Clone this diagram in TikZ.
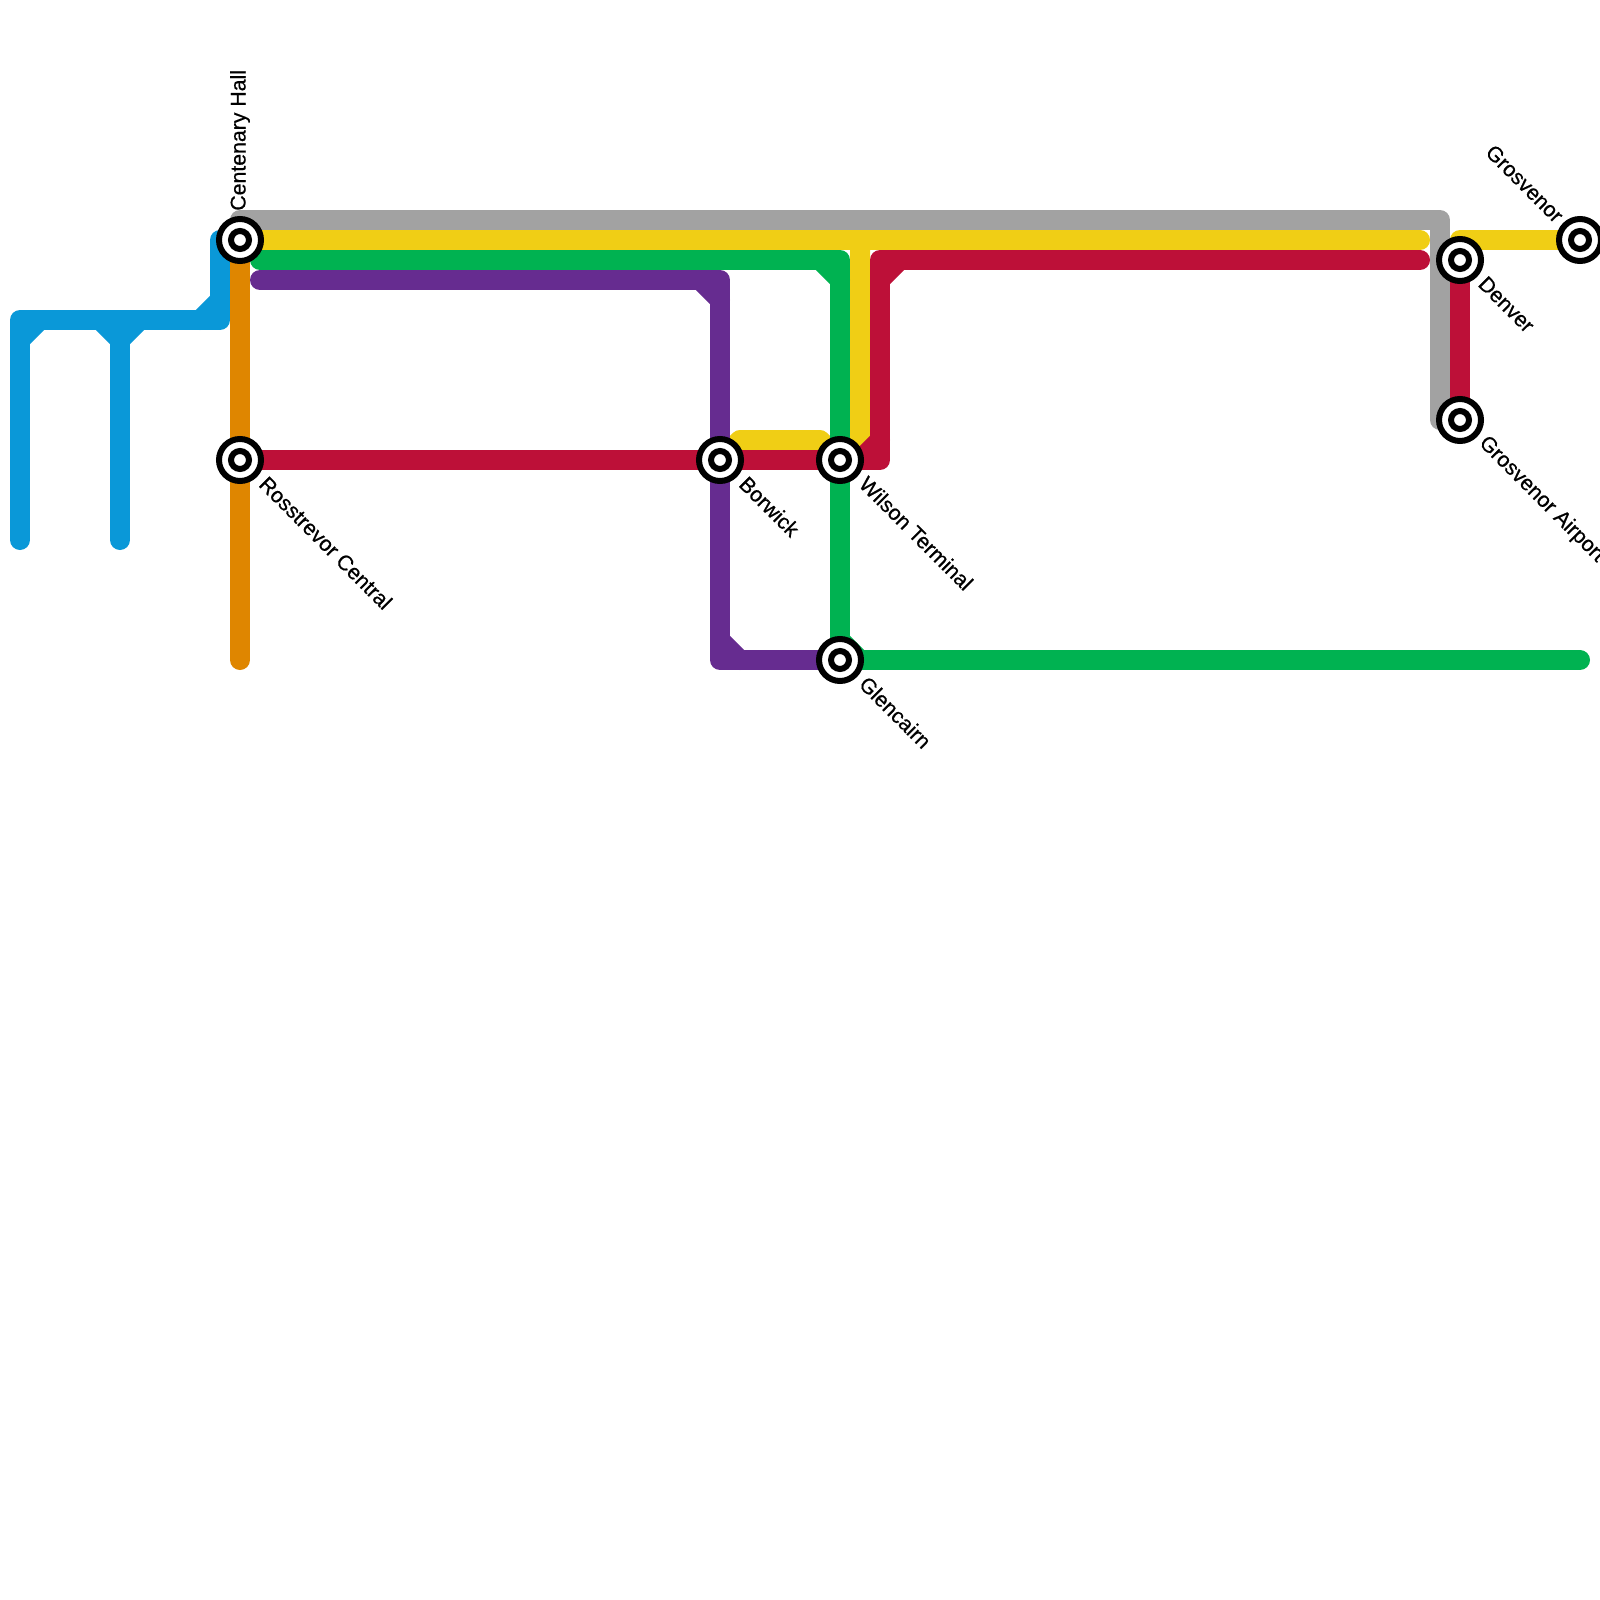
\documentclass[tikz,border=0pt]{standalone}
\usepackage{fontspec}
\setmainfont{Liberation Sans}
\newfontfamily\namefont[FakeBold=0.6]{Liberation Sans}
\usetikzlibrary{backgrounds}
\definecolor{LineBlue}{HTML}{0A98D8}
\definecolor{LineOrange}{HTML}{DF8600}
\definecolor{LineGrey}{HTML}{A2A2A2}
\definecolor{LineYellow}{HTML}{F0CE15}
\definecolor{LineGreen}{HTML}{00B251}
\definecolor{LinePurple}{HTML}{662C90}
\definecolor{LineRed}{HTML}{BD1038}
\tikzstyle{station} = [circle, draw=black, fill=white, line width=0.12cm, minimum size=0.84cm, inner sep=0pt, label={[hub]center:}]
\tikzstyle{hub} = [circle, draw=black, fill=white, line width=0.12cm, minimum size=0.36cm, inner sep=0pt]
\tikzstyle{stationname} = [font=\namefont\fontsize{12.1pt}{14pt}\selectfont, text=black, inner sep=0pt]
\tikzstyle{metro} = [line width=0.4cm, line cap=round, line join=round]

\begin{document}
\begin{tikzpicture}[x=0.4cm, y=-0.4cm]

\useasboundingbox (0,0) rectangle (80,80);

\node (centenary) [station] at (12,12) {};
\node (rosstrevor) [station] at (12,23) {};
\node (borwick) [station] at (36,23) {};
\node (wilson) [station] at (42,23) {};
\node (glencairn) [station] at (42,33) {};
\node (denver) [station] at (73,13) {};
\node (airport) [station] at (73,21) {};
\node (grosvenor) [station] at (79,12) {};

\node (centenaryname) [stationname, rotate=90, anchor=west] at (12,10.55) {Centenary Hall};
\node (rosstrevorname) [stationname, rotate=-45, anchor=west] at (13.15,24) {Rosstrevor Central};
\node (borwickname) [stationname, rotate=-45, anchor=west] at (37.15,24) {Borwick};
\node (wilsonname) [stationname, rotate=-45, anchor=west] at (43.15,24) {Wilson Terminal};
\node (glencairnname) [stationname, rotate=-45, anchor=west] at (43.15,34) {Glencairn};
\node (denvername) [stationname, rotate=-45, anchor=west] at (74.1,14) {Denver};
\node (airportname) [stationname, rotate=-45, anchor=west] at (74.1,22) {Grosvenor Airport};
\node (grosvenorname) [stationname, rotate=-45, anchor=east] at (78,10.95) {Grosvenor};

\coordinate (bluefoot) at (1,27);
\coordinate (bluecorner) at (1,16);
\coordinate (bluebranch) at (6,16);
\coordinate (branchfoot) at (6,27);
\coordinate (blueknee) at (11,16);
\coordinate (bluetop) at (11,12);
\coordinate (orangefoot) at (12,33);
\coordinate (greyend) at (72,11);
\coordinate (greystart) at (12,11);
\coordinate (greyfoot) at (72,21);
\coordinate (yellowend) at (71,12);
\coordinate (yellowsplit) at (43,12);
\coordinate (yellowbend) at (43,22);
\coordinate (loopleft) at (37,22);
\coordinate (loopright) at (41,22);
\coordinate (yellowtop) at (73,12);
\coordinate (greenstart) at (13,13);
\coordinate (greencorner) at (42,13);
\coordinate (greenend) at (79,33);
\coordinate (purplestart) at (13,14);
\coordinate (purpletop) at (36,14);
\coordinate (purplefoot) at (36,33);
\coordinate (redfoot) at (44,23);
\coordinate (redtop) at (44,13);
\coordinate (redend) at (71,13);

\begin{scope}[on background layer]

% blue
\draw [metro, LineBlue] (bluefoot) -- (bluecorner) -- (blueknee) -- (bluetop);
\draw [metro, LineBlue] (branchfoot) -- (bluebranch);
\draw [metro, LineBlue] (bluecorner) ++(0,1) -- ++(1,-1);
\draw [metro, LineBlue] (bluebranch) ++(-1,0) -- ++(1,1) -- ++(1,-1);
\draw [metro, LineBlue] (blueknee) ++(-1,0) -- ++(1,-1);

\draw [metro, LineOrange] (centenary.center) -- (rosstrevor.center) -- (orangefoot);

\draw [metro, LineGrey] (greystart) -- (greyend) -- (greyfoot);

% yellow
\draw [metro, LineYellow] (centenary.center) -- (yellowend);
\draw [metro, LineYellow] (yellowsplit) -- (yellowbend) -- (wilson.center);
\draw [metro, LineYellow] (borwick.center) -- (loopleft) -- (loopright) -- (wilson.center);
\draw [metro, LineYellow] (denver.center) -- (yellowtop) -- (grosvenor.center);

% green
\draw [metro, LineGreen] (greenstart) -- (greencorner) -- (wilson.center) -- (glencairn.center) -- (greenend);
\draw [metro, LineGreen] (greencorner) ++(-1,0) -- ++(1,1);
\draw [metro, LineGreen] (glencairn.center) ++(0,-1) -- ++(1,1);

% purple
\draw [metro, LinePurple] (purplestart) -- (purpletop) -- (borwick.center) -- (purplefoot) -- (glencairn.center);
\draw [metro, LinePurple] (purpletop) ++(-1,0) -- ++(1,1);
\draw [metro, LinePurple] (purplefoot) ++(0,-1) -- ++(1,1);

% red
\draw [metro, LineRed] (rosstrevor.center) -- (borwick.center) -- (wilson.center) -- (redfoot) -- (redtop) -- (redend);
\draw [metro, LineRed] (redfoot) ++(-1,0) -- ++(1,-1);
\draw [metro, LineRed] (redtop) ++(0,1) -- ++(1,-1);
\draw [metro, LineRed] (denver.center) -- (airport.center);

\end{scope}

\end{tikzpicture}
\end{document}
